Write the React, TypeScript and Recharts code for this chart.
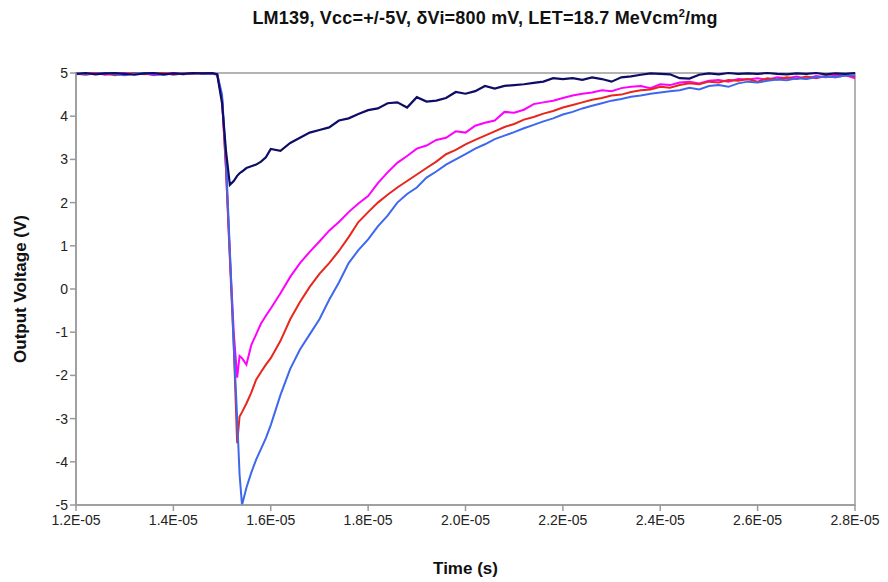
import { LineChart, Line, XAxis, YAxis, ReferenceArea } from 'recharts';

// time in microseconds (axis shows seconds, e.g. 1.2E-05)
const timeUs = [
  12.0, 12.2, 12.4, 12.6, 12.8, 13.0, 13.2, 13.4, 13.6, 13.8, 14.0, 14.2, 14.4, 14.6, 14.8,
  14.9, 15.0, 15.08, 15.16, 15.24, 15.31, 15.36, 15.41, 15.5, 15.6, 15.7, 15.8, 15.9,
  16.0, 16.2, 16.4, 16.6, 16.8,
  17.0, 17.2, 17.4, 17.6, 17.8,
  18.0, 18.2, 18.4, 18.6, 18.8,
  19.0, 19.2, 19.4, 19.6, 19.8,
  20.0, 20.2, 20.4, 20.6, 20.8,
  21.0, 21.2, 21.4, 21.6, 21.8,
  22.0, 22.2, 22.4, 22.6, 22.8,
  23.0, 23.2, 23.4, 23.6, 23.8,
  24.0, 24.2, 24.4, 24.6, 24.8,
  25.0, 25.2, 25.4, 25.6, 25.8,
  26.0, 26.2, 26.4, 26.6, 26.8,
  27.0, 27.2, 27.4, 27.6, 27.8,
  28.0,
];

const navyV = [
  4.98, 5.0, 4.97, 4.99, 5.0, 4.98, 4.96, 4.99, 5.0, 4.97, 4.99, 4.98, 5.0, 4.99, 5.0,
  4.97, 4.3, 3.2, 2.41, 2.5, 2.62, 2.68, 2.72, 2.8, 2.84, 2.88, 2.95, 3.05,
  3.24, 3.2, 3.38, 3.5, 3.62,
  3.68, 3.74, 3.9, 3.95, 4.05,
  4.14, 4.18, 4.3, 4.32, 4.2,
  4.44, 4.34, 4.36, 4.42, 4.56,
  4.52, 4.58, 4.7, 4.64, 4.7,
  4.72, 4.74, 4.77, 4.8, 4.88,
  4.86, 4.88, 4.84, 4.9, 4.86,
  4.8, 4.9, 4.92, 4.96, 4.99,
  4.98, 4.97, 4.88, 4.87, 4.96,
  4.99, 4.97, 5.0, 4.98, 4.99,
  4.98, 5.0, 4.98, 4.97, 4.99,
  4.98, 5.0, 4.97, 4.99, 4.98,
  5.0,
];

const magentaV = [
  4.97, 4.99, 5.0, 4.96, 4.98, 5.0, 4.97, 4.99, 4.95, 4.98, 5.0, 4.97, 4.99, 5.0, 4.98,
  4.96, 4.4, 2.8, 0.8, -1.0, -2.05, -1.55, -1.6, -1.75, -1.3, -1.05, -0.8, -0.62,
  -0.45, -0.1, 0.28, 0.6, 0.86,
  1.1, 1.35, 1.55, 1.78, 1.98,
  2.15, 2.45, 2.7, 2.92, 3.08,
  3.25, 3.32, 3.45, 3.5, 3.65,
  3.62, 3.78, 3.85, 3.9, 4.1,
  4.08, 4.15, 4.28, 4.32, 4.36,
  4.42, 4.48, 4.52, 4.55, 4.6,
  4.58, 4.65, 4.68, 4.7, 4.65,
  4.74, 4.72, 4.78, 4.8, 4.76,
  4.82, 4.84, 4.8, 4.86, 4.85,
  4.88, 4.84, 4.9, 4.88, 4.92,
  4.87, 4.93, 4.9, 4.94, 4.95,
  4.88,
];

const redV = [
  4.98, 4.96, 5.0, 4.99, 4.95, 4.98, 5.0, 4.97, 4.99, 5.0, 4.96, 4.99, 4.98, 5.0, 4.99,
  4.97, 4.4, 2.8, 0.7, -1.3, -3.57, -2.95, -2.85, -2.65, -2.4, -2.1, -1.92, -1.75,
  -1.6, -1.2, -0.7, -0.3, 0.05,
  0.35, 0.6, 0.88, 1.2, 1.55,
  1.78, 2.0, 2.18, 2.35, 2.5,
  2.65, 2.8, 2.95, 3.12, 3.22,
  3.35, 3.45, 3.55, 3.65, 3.75,
  3.82, 3.92, 3.98, 4.06, 4.12,
  4.2, 4.26, 4.32, 4.38, 4.42,
  4.48, 4.5, 4.56, 4.6, 4.62,
  4.68, 4.66, 4.72, 4.76, 4.74,
  4.8, 4.78, 4.84, 4.82, 4.86,
  4.8, 4.88, 4.85, 4.9, 4.86,
  4.92, 4.88, 4.93, 4.9, 4.95,
  4.92,
];

const blueV = [
  4.99, 4.97, 4.98, 5.0, 4.97, 4.95, 4.99, 5.0, 4.97, 4.96, 4.99, 4.97, 5.0, 4.98, 4.99,
  4.98, 4.5, 3.0, 0.9, -1.3, -3.0, -4.3, -5.0, -4.6, -4.25, -3.95, -3.7, -3.45,
  -3.15, -2.45, -1.85, -1.4, -1.05,
  -0.7, -0.25, 0.15, 0.6, 0.9,
  1.15, 1.45, 1.7, 2.0, 2.2,
  2.35, 2.58, 2.72, 2.88, 3.0,
  3.12, 3.25, 3.35, 3.47, 3.55,
  3.63, 3.72, 3.8, 3.88, 3.95,
  4.04, 4.1, 4.18, 4.24, 4.3,
  4.36, 4.4, 4.45, 4.48, 4.52,
  4.55, 4.58, 4.6, 4.66, 4.62,
  4.7, 4.72, 4.68, 4.76, 4.8,
  4.78, 4.82, 4.85, 4.83, 4.88,
  4.86, 4.9, 4.92, 4.9, 4.94,
  4.95,
];

const xTicks = [12, 14, 16, 18, 20, 22, 24, 26, 28];
const yTicks = [-5, -4, -3, -2, -1, 0, 1, 2, 3, 4, 5];

const data = timeUs.map((t, i) => ({
  t,
  navy: navyV[i],
  magenta: magentaV[i],
  red: redV[i],
  blue: blueV[i],
}));

const font = '"Liberation Sans", Arial, sans-serif';
const axisGray = '#9a9a9a';

const fmtTime = (v: number) => (v / 10).toFixed(1) + 'E-05';

export default function App() {
  return (
    <div style={{ position: 'absolute', left: 0, top: 0, width: 888, height: 582, background: '#fff', fontFamily: font }}>
      <div
        style={{
          position: 'absolute',
          top: 7,
          left: 82,
          width: 806,
          textAlign: 'center',
          fontWeight: 'bold',
          fontSize: 18,
          letterSpacing: 0.2,
          color: '#111',
        }}
      >
        LM139, Vcc=+/-5V, δVi=800 mV, LET=18.7 MeVcm<sup style={{ fontSize: 11 }}>2</sup>/mg
      </div>
      <LineChart width={888} height={582} data={data} margin={{ top: 73, right: 33, bottom: 8, left: 36 }}>
        <ReferenceArea x1={12} x2={28} y1={-5} y2={5} fill="none" stroke={axisGray} strokeWidth={1.5} />
        <XAxis
          dataKey="t"
          type="number"
          domain={[12, 28]}
          ticks={xTicks}
          tickFormatter={fmtTime}
          height={69}
          stroke={axisGray}
          strokeWidth={1.5}
          tickSize={6}
          tickMargin={4}
          tick={{ fill: '#222', fontSize: 14, fontFamily: font }}
          label={{ value: 'Time (s)', position: 'insideBottom', offset: 0, fill: '#111', fontSize: 17, fontWeight: 'bold', fontFamily: font }}
        />
        <YAxis
          type="number"
          domain={[-5, 5]}
          ticks={yTicks}
          width={40}
          stroke={axisGray}
          strokeWidth={1.5}
          tickSize={6}
          tick={{ fill: '#222', fontSize: 14, fontFamily: font }}
          label={{ value: 'Output Voltage (V)', angle: -90, position: 'insideLeft', offset: -16, fill: '#111', fontSize: 17, fontWeight: 'bold', fontFamily: font, style: { textAnchor: 'middle' } }}
        />
        <Line dataKey="magenta" stroke="#ff00ff" strokeWidth={2} dot={false} isAnimationActive={false} />
        <Line dataKey="red" stroke="#e8261c" strokeWidth={2} dot={false} isAnimationActive={false} />
        <Line dataKey="blue" stroke="#3d68ee" strokeWidth={2} dot={false} isAnimationActive={false} />
        <Line dataKey="navy" stroke="#0d0d66" strokeWidth={2.2} dot={false} isAnimationActive={false} />
      </LineChart>
    </div>
  );
}
